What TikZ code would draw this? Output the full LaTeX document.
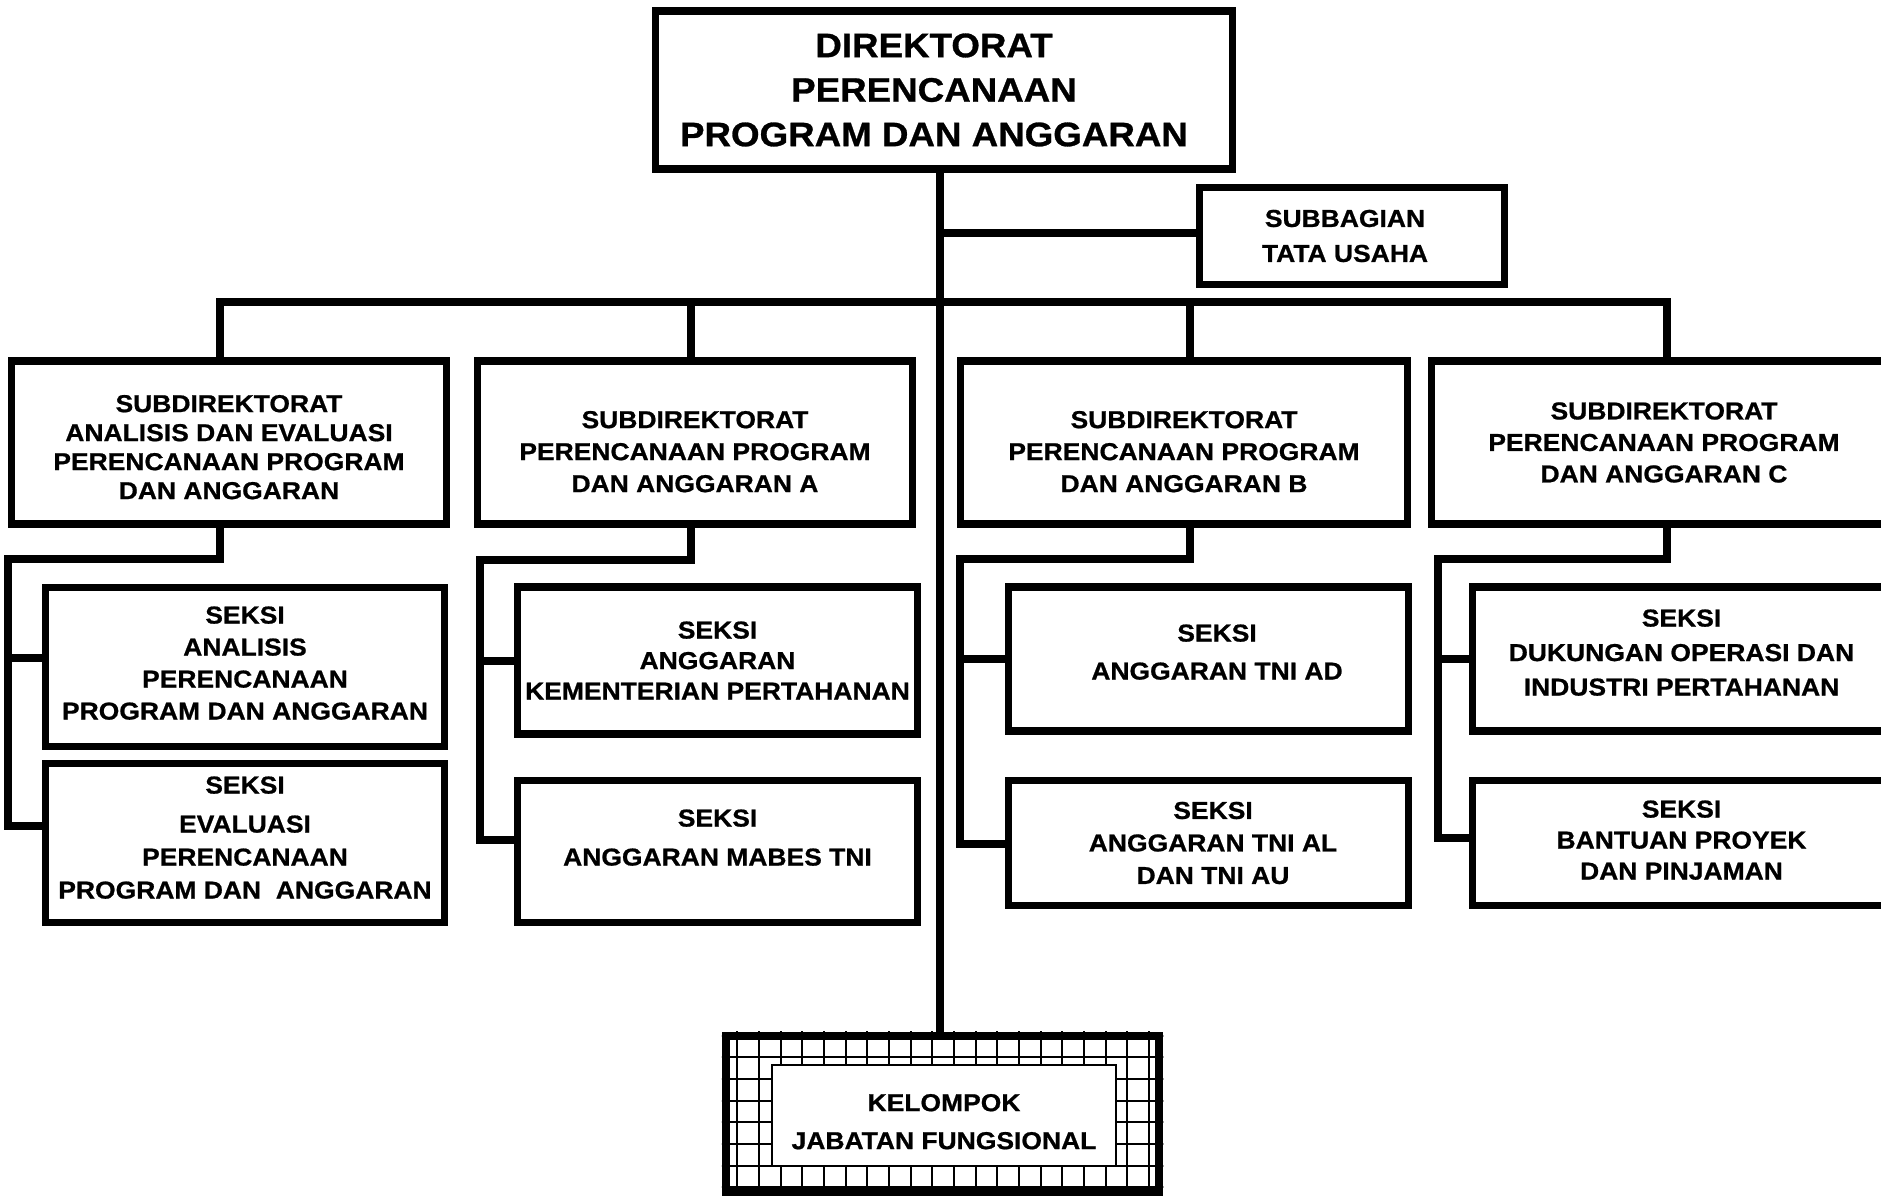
\documentclass[tikz,border=0pt]{standalone}
\usepackage{fontspec}
\newfontfamily\af{Liberation Sans}[FakeStretch=1.08, BoldFeatures={FakeBold=0.8}]
\newcommand\upby[1]{\rule[-#1]{0pt}{0pt}}
\newcommand\dnby[1]{\rule{0pt}{#1}}
\begin{document}
\begin{tikzpicture}[x=1pt,y=-1pt,
  box/.style={draw, line width=7.5pt, fill=white, inner sep=0pt, align=center},
  fs/.style 2 args={font=\af\bfseries\fontsize{#1}{#2}\selectfont},
  conn/.style={line width=7.5pt},
  gridline/.style={line width=1.8pt}
  ]
\useasboundingbox (0,0) rectangle (1881,1196);

% top level
\node[box, fs={34}{44.5}, minimum width=577pt, minimum height=158pt] (top) at (944,90)
  {DIREKTORAT\rule{20pt}{0pt}\\PERENCANAAN\rule{20pt}{0pt}\\PROGRAM DAN ANGGARAN\rule{20pt}{0pt}};
\node[box, fs={24.5}{35}, minimum width=305pt, minimum height=97pt] (sb) at (1352,236)
  {SUBBAGIAN\rule{14pt}{0pt}\\TATA USAHA\rule{14pt}{0pt}};

% subdirektorat
\node[box, fs={24.5}{29}, minimum width=435pt, minimum height=163pt] (d1) at (229,442.5)
  {\dnby{26.5pt}SUBDIREKTORAT\\ANALISIS DAN EVALUASI\\PERENCANAAN PROGRAM\\DAN ANGGARAN};
\node[box, fs={24.5}{32}, minimum width=435pt, minimum height=163pt] (d2) at (695,442.5)
  {\dnby{35.5pt}SUBDIREKTORAT\\PERENCANAAN PROGRAM\\DAN ANGGARAN A};
\node[box, fs={24.5}{32}, minimum width=447pt, minimum height=163pt] (d3) at (1184,442.5)
  {\dnby{35.5pt}SUBDIREKTORAT\\PERENCANAAN PROGRAM\\DAN ANGGARAN B};
\node[box, fs={24.5}{31.5}, minimum width=465pt, minimum height=163pt] (d4) at (1664,442.5)
  {SUBDIREKTORAT\\PERENCANAAN PROGRAM\\DAN ANGGARAN C};

% seksi
\node[box, fs={24.5}{32}, minimum width=399pt, minimum height=159pt] (s11) at (245,667)
  {SEKSI\\ANALISIS\\PERENCANAAN\\PROGRAM DAN ANGGARAN\upby{8pt}};
\node[box, fs={24.5}{33}, minimum width=399pt, minimum height=159pt] (s12) at (245,843)
  {SEKSI\\[6pt]EVALUASI\\PERENCANAAN\\PROGRAM DAN~~ANGGARAN\upby{11pt}};
\node[box, fs={24.5}{30.5}, minimum width=400pt, minimum height=147pt] (sA1) at (717.5,660.5)
  {SEKSI\\ANGGARAN\\KEMENTERIAN PERTAHANAN};
\node[box, fs={24.5}{39}, minimum width=400pt, minimum height=142pt] (sA2) at (717.5,851.5)
  {SEKSI\\ANGGARAN MABES TNI\upby{28pt}};
\node[box, fs={24.5}{38}, minimum width=400pt, minimum height=144pt] (sB1) at (1208.5,659)
  {\rule{17pt}{0pt}SEKSI\\\rule{17pt}{0pt}ANGGARAN TNI AD\upby{14pt}};
\node[box, fs={24.5}{32.5}, minimum width=400pt, minimum height=125pt] (sB2) at (1208.5,843)
  {\rule{9pt}{0pt}SEKSI\\\rule{9pt}{0pt}ANGGARAN TNI AL\\\rule{9pt}{0pt}DAN TNI AU};
\node[box, fs={24.5}{34.5}, minimum width=418pt, minimum height=144pt] (sC1) at (1681.5,659)
  {SEKSI\\DUKUNGAN OPERASI DAN\\INDUSTRI PERTAHANAN\upby{13pt}};
\node[box, fs={24.5}{31}, minimum width=418pt, minimum height=125pt] (sC2) at (1681.5,843)
  {SEKSI\\BANTUAN PROYEK\\DAN PINJAMAN\upby{6pt}};

% kelompok jabatan fungsional
\node[draw, line width=8.5pt, inner sep=0pt, minimum width=433pt, minimum height=156pt] (kel) at (942.5,1114)
  {};
\begin{scope}
  \clip (kel.south west) rectangle (kel.north east);
  \foreach \i in {-1,...,20} \draw[gridline] (737.3+21.67*\i,1020) -- ++(0,190);
  \foreach \j in {-1,...,7} \draw[gridline] (700,1057.3+21.67*\j) -- ++(480,0);
\end{scope}
\node[box, line width=2pt, fs={24.5}{38}, minimum width=344pt, minimum height=101pt] (kelin) at (944,1115.5)
  {\dnby{29.5pt}KELOMPOK\\JABATAN FUNGSIONAL};

% connectors
\coordinate (m) at (940,233);
\coordinate (b1) at (220,302);
\coordinate (b2) at (691,302);
\coordinate (b3) at (1190,302);
\coordinate (b4) at (1667,302);
\draw[conn] (top.south -| m) -- (kel.north -| m);
\draw[conn] (m) -- (sb.west |- m);
\draw[conn] (d1.north -| b1) -- (b1) -- (b4) -- (d4.north -| b4);
\draw[conn] (b2) -- (d2.north -| b2);
\draw[conn] (b3) -- (d3.north -| b3);

\coordinate (e1) at (8,559);    \coordinate (f11) at (8,658);    \coordinate (f12) at (8,826);
\coordinate (e2) at (480,560);  \coordinate (f21) at (480,661);  \coordinate (f22) at (480,840);
\coordinate (e3) at (960,559);  \coordinate (f31) at (960,659);  \coordinate (f32) at (960,844);
\coordinate (e4) at (1438,559); \coordinate (f41) at (1438,659); \coordinate (f42) at (1438,838);

\draw[conn] (d1.south -| b1) |- (e1) -- (f12) -- (s12.west |- f12);
\draw[conn] (f11) -- (s11.west |- f11);
\draw[conn] (d2.south -| b2) |- (e2) -- (f22) -- (sA2.west |- f22);
\draw[conn] (f21) -- (sA1.west |- f21);
\draw[conn] (d3.south -| b3) |- (e3) -- (f32) -- (sB2.west |- f32);
\draw[conn] (f31) -- (sB1.west |- f31);
\draw[conn] (d4.south -| b4) |- (e4) -- (f42) -- (sC2.west |- f42);
\draw[conn] (f41) -- (sC1.west |- f41);
\end{tikzpicture}
\end{document}
